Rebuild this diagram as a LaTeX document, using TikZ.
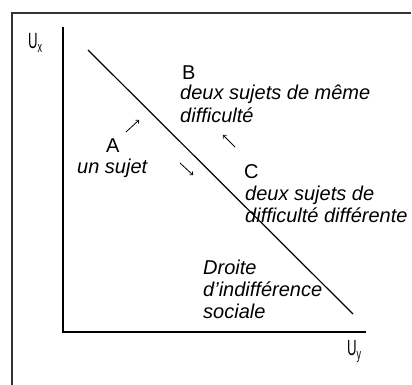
\documentclass[tikz,border=0pt]{standalone}
\usepackage{fontspec}
\setmainfont{Liberation Sans}
\usetikzlibrary{arrows.meta, positioning}

\newcommand{\axisname}[1]{\scalebox{0.6}[1]{\fontsize{22}{22}\selectfont U\raisebox{-4pt}{\fontsize{15}{15}\selectfont #1}}}

\begin{document}
\begin{tikzpicture}[
    x=1pt, y=-1pt,
    tag/.style={inner sep=0pt, anchor=base west, font=\fontsize{20}{22}\selectfont},
    note/.style={tag, font=\fontsize{20}{22}\selectfont\itshape, align=left},
    axis/.style={line width=1.2pt},
    frame/.style={line width=1.4pt, draw=black!80},
    hint/.style={-{To[length=3pt,width=5pt]}, line width=0.8pt}
]
    \useasboundingbox (0,0) rectangle (412,385);
    % frame, only left and top visible
    \draw[frame] (12,385) -- (12,13) -- (411,13);

    % axes and line
    \coordinate (origin) at (63,332);
    \coordinate (ytop) at (63,27);
    \coordinate (xend) at (366,332);
    \coordinate (dtop) at (88,50);
    \coordinate (dbot) at (353,314);
    \draw[axis] (ytop) -- (origin) -- (xend);
    \draw[axis] (dtop) -- (dbot);

    \node[tag] (ux) at (28,49) {\axisname{x}};
    \node[tag] (uy) at (347,355) {\axisname{y}};

    % points (multi-line notes sit on their last line)
    \node[tag] (a) at (106,152) {A};
    \node[note] (atext) at (77,173) {un sujet};
    \node[tag] (b) at (182,80) {B};
    \node[note] (btext) at (180,122) {deux sujets de même\\difficulté};
    \node[tag] (c) at (244,178) {C};
    \node[note] (ctext) at (245,222) {deux sujets de\\difficulté différente};
    \node[note] (droite) at (203,318) {Droite\\d’indifférence\\sociale};

    % small moves
    \coordinate (a1) at (126,132); \coordinate (a2) at (139,120);
    \coordinate (b1) at (235,147); \coordinate (b2) at (223,135);
    \coordinate (c1) at (180,163); \coordinate (c2) at (193,175);
    \draw[hint] (a1) -- (a2);
    \draw[hint] (b1) -- (b2);
    \draw[hint] (c1) -- (c2);
\end{tikzpicture}
\end{document}
